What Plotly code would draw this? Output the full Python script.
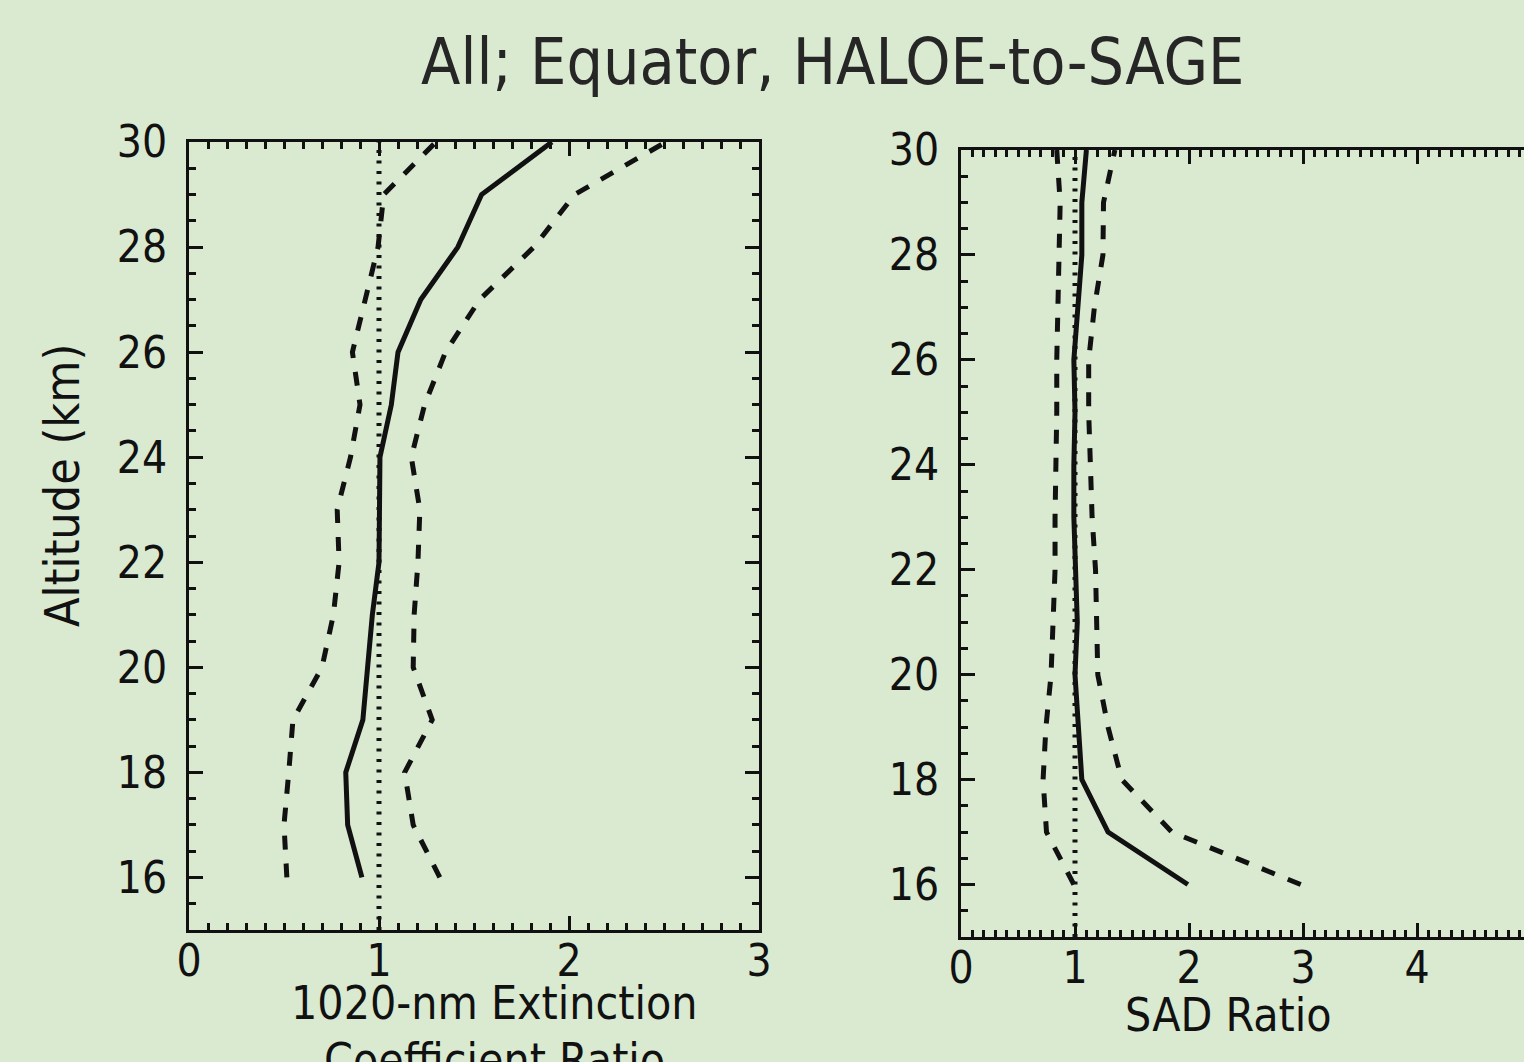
import plotly.graph_objects as go

# ---------------- data ----------------
altitude = [16, 17, 18, 19, 20, 21, 22, 23, 24, 25, 26, 27, 28, 29, 30]

ext_median = [0.91, 0.835, 0.825, 0.915, 0.94, 0.965, 1.0, 1.005, 1.005, 1.065, 1.10, 1.22, 1.415, 1.54, 1.91]
ext_low = [0.515, 0.50, 0.525, 0.547, 0.70, 0.76, 0.79, 0.78, 0.85, 0.90, 0.86, 0.93, 0.995, 1.025, 1.30]
ext_high = [1.32, 1.18, 1.135, 1.28, 1.18, 1.185, 1.205, 1.215, 1.17, 1.24, 1.35, 1.53, 1.815, 2.03, 2.51]

sad_median = [1.99, 1.29, 1.06, 1.03, 1.0, 1.02, 1.0, 0.99, 0.99, 1.0, 0.99, 1.03, 1.06, 1.06, 1.10]
sad_low = [0.99, 0.75, 0.72, 0.745, 0.79, 0.81, 0.825, 0.825, 0.835, 0.84, 0.84, 0.85, 0.87, 0.87, 0.84]
sad_high = [2.98, 1.85, 1.41, 1.29, 1.20, 1.19, 1.18, 1.15, 1.13, 1.12, 1.12, 1.17, 1.245, 1.25, 1.35]

unity_x = [1, 1]
unity_y = [15, 30]

title_text = "All; Equator, HALOE-to-SAGE"
ylabel_text = "Altitude (km)"
xlabel_left_1 = "1020-nm Extinction"
xlabel_left_2 = "Coefficient Ratio"
xlabel_right = "SAD Ratio"

# ---------------- style ----------------
W, H = 1524, 1062
BG = "#d9ead1"
FONT = "DejaVu Sans Condensed, Liberation Sans Narrow, Arial Narrow, sans-serif"
INK = "#111111"
DASH = "14px,14px"

fig = go.Figure()

def add_panel(xs_med, xs_low, xs_high, xa, ya):
    fig.add_trace(go.Scatter(x=unity_x, y=unity_y, mode="lines", xaxis=xa, yaxis=ya,
                             line=dict(color=INK, width=5, dash="3px,7.5px"), showlegend=False, hoverinfo="skip"))
    fig.add_trace(go.Scatter(x=xs_low, y=altitude, mode="lines", xaxis=xa, yaxis=ya,
                             line=dict(color=INK, width=5, dash=DASH), showlegend=False))
    fig.add_trace(go.Scatter(x=xs_high, y=altitude, mode="lines", xaxis=xa, yaxis=ya,
                             line=dict(color=INK, width=5, dash=DASH), showlegend=False))
    fig.add_trace(go.Scatter(x=xs_med, y=altitude, mode="lines", xaxis=xa, yaxis=ya,
                             line=dict(color=INK, width=5), showlegend=False))

add_panel(ext_median, ext_low, ext_high, "x", "y")
add_panel(sad_median, sad_low, sad_high, "x2", "y2")

tickfont = dict(family=FONT, size=44, color=INK)

def xaxis_cfg(domain, rng, anchor, mirror):
    return dict(domain=domain, range=rng, anchor=anchor, showgrid=False, zeroline=False,
                showline=True, linecolor=INK, linewidth=3, mirror=mirror,
                ticks="inside", ticklen=14, tickwidth=2.5, tickcolor=INK,
                tick0=0, dtick=1, tickfont=tickfont, ticklabelstandoff=-10,
                minor=dict(ticks="inside", ticklen=7, tickwidth=2.5, tickcolor=INK, dtick=0.1, showgrid=False),
                automargin=False, fixedrange=True)

def yaxis_cfg(domain, anchor, mirror):
    return dict(domain=domain, range=[15, 30], anchor=anchor, showgrid=False, zeroline=False,
                showline=True, linecolor=INK, linewidth=3, mirror=mirror,
                ticks="inside", ticklen=14, tickwidth=2.5, tickcolor=INK,
                tick0=0, dtick=2, tickfont=tickfont, ticklabelstandoff=10,
                minor=dict(ticks="inside", ticklen=7, tickwidth=2.5, tickcolor=INK, dtick=0.5, showgrid=False),
                automargin=False, fixedrange=True)

fig.update_layout(
    width=W, height=H,
    margin=dict(l=0, r=0, t=0, b=0),
    paper_bgcolor=BG, plot_bgcolor=BG,
    showlegend=False,
    xaxis=xaxis_cfg([189 / W, 759 / W], [0, 3], "y", "ticks"),
    yaxis=yaxis_cfg([1 - 930 / H, 1 - 142 / H], "x", "ticks"),
    xaxis2=xaxis_cfg([961 / W, 1.0], [0, (W - 961) / 114], "y2", "ticks"),
    yaxis2=yaxis_cfg([1 - 937 / H, 1 - 150 / H], "x2", False),
)

ann_font = dict(family=FONT, size=46, color=INK)
fig.add_annotation(text=title_text, xref="paper", yref="paper", x=833 / W, y=1 - 62 / H,
                   xanchor="center", yanchor="middle", showarrow=False,
                   font=dict(family=FONT, size=64, color="#262626"))
fig.add_annotation(text=ylabel_text, xref="paper", yref="paper", x=62 / W, y=1 - 486 / H,
                   xanchor="center", yanchor="middle", textangle=-90, showarrow=False,
                   font=dict(family=FONT, size=48, color=INK))
fig.add_annotation(text=xlabel_left_1, xref="paper", yref="paper", x=495 / W, y=1 - 1003 / H,
                   xanchor="center", yanchor="middle", showarrow=False, font=ann_font)
fig.add_annotation(text=xlabel_left_2, xref="paper", yref="paper", x=495 / W, y=1 - 1060 / H,
                   xanchor="center", yanchor="middle", showarrow=False, font=ann_font)
fig.add_annotation(text=xlabel_right, xref="paper", yref="paper", x=1228 / W, y=1 - 1015 / H,
                   xanchor="center", yanchor="middle", showarrow=False, font=ann_font)

fig.write_html("out.html", config={"displayModeBar": False})
